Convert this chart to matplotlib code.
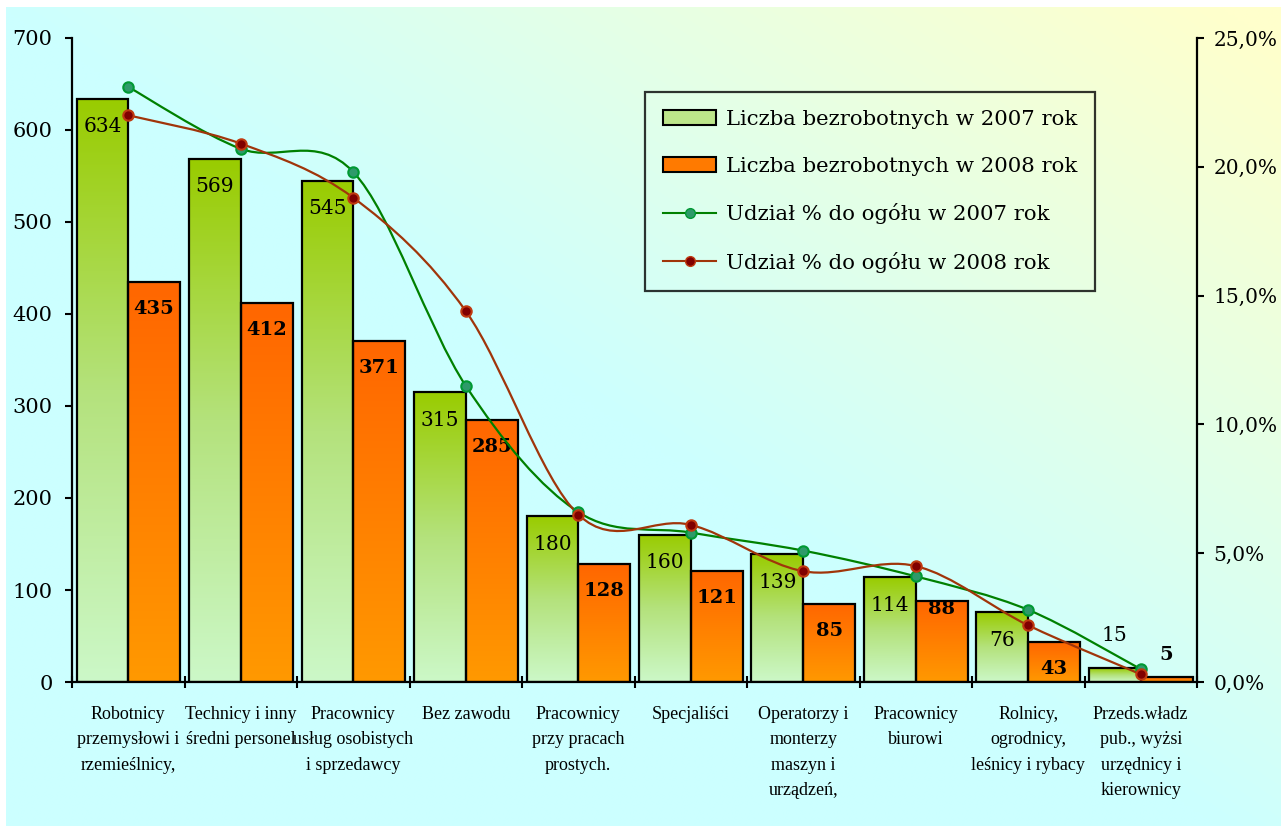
import numpy as np
import matplotlib.pyplot as plt
from matplotlib.path import Path
from matplotlib.patches import PathPatch, Patch
from matplotlib.lines import Line2D
from matplotlib.colors import LinearSegmentedColormap, to_rgb

categories = [
    "Robotnicy\nprzemysłowi i\nrzemieślnicy,",
    "Technicy i inny\nśredni personel",
    "Pracownicy\nusług osobistych\ni sprzedawcy",
    "Bez zawodu",
    "Pracownicy\nprzy pracach\nprostych.",
    "Specjaliści",
    "Operatorzy i\nmonterzy\nmaszyn i\nurządzeń,",
    "Pracownicy\nbiurowi",
    "Rolnicy,\nogrodnicy,\nleśnicy i rybacy",
    "Przeds.władz\npub., wyżsi\nurzędnicy i\nkierownicy",
]
bezrobotni_2007 = [634, 569, 545, 315, 180, 160, 139, 114, 76, 15]
bezrobotni_2008 = [435, 412, 371, 285, 128, 121, 85, 88, 43, 5]
udzial_2007 = [23.1, 20.7, 19.8, 11.5, 6.6, 5.8, 5.1, 4.1, 2.8, 0.5]
udzial_2008 = [22.0, 20.9, 18.8, 14.4, 6.5, 6.1, 4.3, 4.5, 2.2, 0.3]

W, H = 1281, 826
fig = plt.figure(figsize=(W / 100, H / 100), dpi=100)
fig.patch.set_facecolor("white")

# tło: cyjan -> jasnożółty w prawym górnym rogu
bg = fig.add_axes([0, 0, 1, 1], zorder=-10)
bg.set_xlim(0, W)
bg.set_ylim(H, 0)
bg.axis("off")
xx, yy = np.meshgrid(np.linspace(0, 1, 400), np.linspace(0, 1, 260))
t = np.clip(xx * 1.05 - yy * 1.0, 0, 1)
c0 = np.array(to_rgb("#CCFFFF"))
c1 = np.array(to_rgb("#FFFFCC"))
img = c0 + (c1 - c0) * t[..., None]
bg.imshow(img, extent=[6, W, H, 7], aspect="auto", interpolation="bilinear")

ax = fig.add_axes([72 / W, 1 - 682 / H, (1197 - 72) / W, (682 - 38) / H])
ax.patch.set_visible(False)

x = np.arange(len(categories))
bw = 0.46
green_cmap = LinearSegmentedColormap.from_list("g", ["#CCF8C8", "#B4E27C", "#99CC00"])
orange_cmap = LinearSegmentedColormap.from_list("o", ["#FF9900", "#FF6600"])
grad = np.linspace(0, 1, 256).reshape(-1, 1)

bars1 = ax.bar(x - bw / 2, bezrobotni_2007, bw, facecolor="none", edgecolor="black", lw=1.6, zorder=3)
bars2 = ax.bar(x + bw / 2, bezrobotni_2008, bw, facecolor="none", edgecolor="black", lw=1.6, zorder=3)
for bars, cmap in [(bars1, green_cmap), (bars2, orange_cmap)]:
    for r in bars:
        im = ax.imshow(grad, cmap=cmap, origin="lower", aspect="auto", zorder=2,
                       extent=[r.get_x(), r.get_x() + r.get_width(), 0, r.get_height()])
        im.set_clip_path(r)

for r, v in zip(bars1, bezrobotni_2007):
    off = -28 if v > 40 else 33
    ax.annotate(str(v), (r.get_x() + r.get_width() / 2, v), xytext=(0, off * 0.72),
                textcoords="offset points", ha="center", va="center",
                fontsize=14.5, family="DejaVu Serif", zorder=5)
for i, (r, v) in enumerate(zip(bars2, bezrobotni_2008)):
    off = -27 if v > 40 else 22
    if i == 7:  # etykieta przesunięta w oryginale
        off = -8
    ax.annotate(str(v), (r.get_x() + r.get_width() / 2, v), xytext=(0, off * 0.72),
                textcoords="offset points", ha="center", va="center",
                fontsize=14, family="DejaVu Serif", fontweight="bold", zorder=5)

ax.set_xlim(-0.5, len(categories) - 0.5)
ax.set_ylim(0, 700)
ax.set_yticks(range(0, 701, 100))
ax.set_xticks(np.arange(-0.5, len(categories), 1))
ax.set_xticklabels([])
ax.set_xticks(x, minor=True)
ax.set_xticklabels(categories, minor=True, family="Liberation Serif", fontsize=13,
                   linespacing=1.65, va="top")
ax.tick_params(axis="x", which="major", direction="inout", length=8, width=1.5)
ax.tick_params(axis="x", which="minor", length=0, pad=17)
ax.tick_params(axis="y", direction="out", length=5, width=1.5, pad=9)
for lab in ax.get_yticklabels():
    lab.set_family("DejaVu Serif")
    lab.set_fontsize(15)
ax.spines["top"].set_visible(False)
ax.spines["right"].set_visible(False)
for s in ["left", "bottom"]:
    ax.spines[s].set_linewidth(1.6)

ax2 = ax.twinx()
ax2.patch.set_visible(False)
ax2.set_ylim(0, 25)
ax2.set_yticks(range(0, 26, 5))
ax2.set_yticklabels([f"{v:.1f}%".replace(".", ",") for v in range(0, 26, 5)],
                    family="DejaVu Serif", fontsize=14.5)
ax2.tick_params(axis="y", direction="out", length=5, width=1.5, pad=7)
ax2.spines["top"].set_visible(False)
ax2.spines["left"].set_visible(False)
ax2.spines["bottom"].set_visible(False)
ax2.spines["right"].set_linewidth(1.6)


def smooth(xs, ys):
    n = len(xs)
    verts = [(xs[0], ys[0])]
    codes = [Path.MOVETO]
    for i in range(n - 1):
        a = max(i - 1, 0)
        b = min(i + 2, n - 1)
        verts.append((xs[i] + (xs[i + 1] - xs[a]) / 6, ys[i] + (ys[i + 1] - ys[a]) / 6))
        verts.append((xs[i + 1] - (xs[b] - xs[i]) / 6, ys[i + 1] - (ys[b] - ys[i]) / 6))
        verts.append((xs[i + 1], ys[i + 1]))
        codes += [Path.CURVE4] * 3
    return Path(verts, codes)


ax2.add_patch(PathPatch(smooth(x, udzial_2007), fill=False, edgecolor="#008000", lw=1.6, zorder=6))
ax2.add_patch(PathPatch(smooth(x, udzial_2008), fill=False, edgecolor="#A0350A", lw=1.6, zorder=6))
ax2.plot(x, udzial_2007, "o", ms=7.5, mfc="#2E9A6A", mec="#009933", mew=1.5, zorder=7)
ax2.plot(x, udzial_2008, "o", ms=7.5, mfc="#800000", mec="#C03A10", mew=1.5, zorder=7)

handles = [
    Patch(facecolor="#BDE68A", edgecolor="black", lw=1.5),
    Patch(facecolor="#FF7A00", edgecolor="black", lw=1.5),
    Line2D([], [], color="#008000", lw=1.5, marker="o", ms=7, mfc="#2E9A6A", mec="#009933"),
    Line2D([], [], color="#A0350A", lw=1.5, marker="o", ms=7, mfc="#800000", mec="#C03A10"),
]
labels = ["Liczba bezrobotnych w 2007 rok", "Liczba bezrobotnych w 2008 rok",
          "Udział % do ogółu w 2007 rok", "Udział % do ogółu w 2008 rok"]
leg = ax2.legend(handles, labels, loc="upper left",
                 bbox_to_anchor=((645 - 72) / 1125, 1 - (92 - 38) / 644),
                 prop={"family": "DejaVu Serif", "size": 15.3}, frameon=True, fancybox=False,
                 facecolor="none", edgecolor="black", handlelength=2.5, handleheight=0.7,
                 labelspacing=1.3, borderpad=0.85, borderaxespad=0, handletextpad=0.45)
leg.get_frame().set_linewidth(1.6)
leg.set_zorder(10)

fig.savefig("out.png", dpi=100)
